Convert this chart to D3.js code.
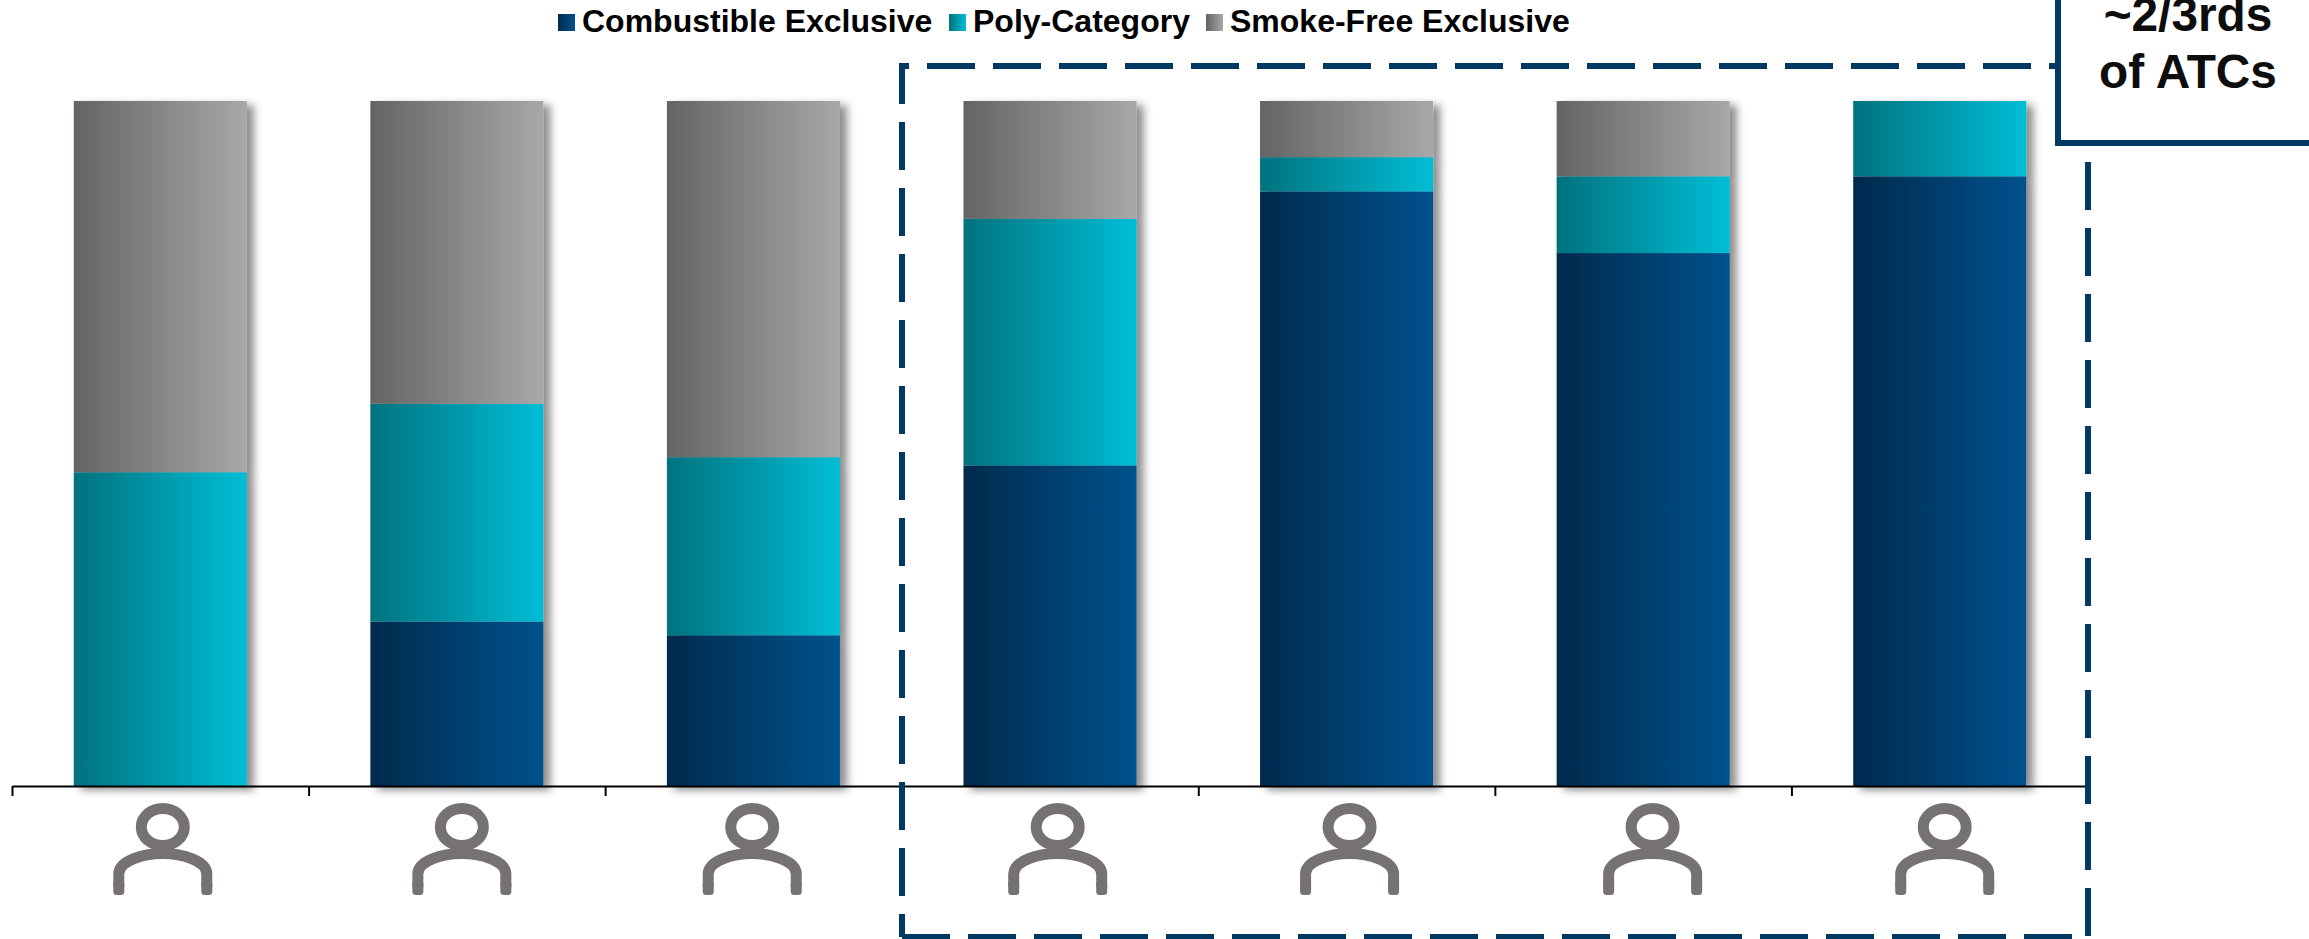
<!DOCTYPE html>
<html><head><meta charset="utf-8">
<script src="https://cdn.jsdelivr.net/npm/d3@7"></script>
<style>html,body{margin:0;padding:0;background:#fff;overflow:hidden}svg{display:block}text{font-family:"Liberation Sans",Arial,sans-serif;font-weight:700}</style>
</head><body><svg id="c" width="2309" height="939"></svg>
<script>
const categories = ["A","B","C","D","E","F","G"];
const seriesNames = ["Combustible Exclusive","Poly-Category","Smoke-Free Exclusive"];
const combustible = [0,24,22,46.8,86.8,77.8,89];
const polyCategory = [45.8,31.8,26,36,5,11.2,11];
const smokeFree = [54.2,44.2,52,17.2,8.2,11,0];
const calloutLines = ["~2/3rds","of ATCs"];
const iconNudge = [2.5,5,-1.2,7.7,3,9.5,5];

const W=2309,H=939,base=786,top0=101,axL=12,axR=2088;
const svg=d3.select("#c");
const defs=svg.append("defs");
const grads=[["#012a4d","#00528c"],["#00727e","#00bed6"],["#646464","#a8a8a8"]];
grads.forEach((g,i)=>{
  const lg=defs.append("linearGradient").attr("id","g"+i);
  lg.append("stop").attr("offset",0).attr("stop-color",g[0]);
  lg.append("stop").attr("offset",1).attr("stop-color",g[1]);
});
const f=defs.append("filter").attr("id","sh").attr("x","-10%").attr("y","-5%").attr("width","125%").attr("height","110%");
f.append("feDropShadow").attr("dx",7).attr("dy",4).attr("stdDeviation",4).attr("flood-color","#000").attr("flood-opacity",.45);

const step=(axR-axL)/categories.length, pad=1-173/step;
const x=d3.scaleBand().domain(categories).range([axL,axR]).paddingInner(pad).paddingOuter(pad/2);
const y=d3.scaleLinear().domain([0,100]).range([base,top0]);
const table=categories.map((c,i)=>({c,[seriesNames[0]]:combustible[i],[seriesNames[1]]:polyCategory[i],[seriesNames[2]]:smokeFree[i]}));
const stack=d3.stack().keys(seriesNames)(table);

// bars
const barG=svg.append("g").selectAll("g").data(categories).join("g").attr("filter","url(#sh)");
barG.each(function(c,ci){
  d3.select(this).selectAll("rect").data(stack.map((s,si)=>({d:s[ci],si}))).join("rect")
    .attr("x",x(c)).attr("width",x.bandwidth())
    .attr("y",d=>y(d.d[1])).attr("height",d=>y(d.d[0])-y(d.d[1]))
    .attr("fill",d=>`url(#g${d.si})`);
});

// axis
const xAxis=d3.scaleLinear().domain([0,categories.length]).range([axL,axR]);
const ax=svg.append("g").attr("transform",`translate(0,${base})`)
  .call(d3.axisBottom(xAxis).tickValues(d3.range(0,categories.length+1)).tickSize(10).tickSizeOuter(0).tickFormat(""));
ax.selectAll("path,line").attr("stroke","#000").attr("stroke-width",2);
ax.selectAll("text").remove();

// person icons
const icon=svg.append("g").selectAll("g").data(categories).join("g")
  .attr("transform",(c,i)=>`translate(${x(c)+x.bandwidth()/2+iconNudge[i]},827)`)
  .attr("fill","none").attr("stroke","#767271");
icon.append("ellipse").attr("rx",21.5).attr("ry",18.5).attr("stroke-width",11);
icon.append("path").attr("stroke-width",11)
  .attr("d","M-44 60V47C-44 34 -20 26.500 0 26.500C20 26.500 44 34 44 47V60");
[-49.5,38.5].forEach(fx=>icon.append("rect").attr("x",fx).attr("y",54).attr("width",11).attr("height",14).attr("rx",3.5).attr("fill","#767271").attr("stroke","none"));

// dashed highlight
const dash=svg.append("g").attr("stroke","#003a63").attr("stroke-width",6).attr("stroke-dasharray","48 18");
[[899,66,2091,66,38],[902,66,902,937,10],[902,937,2088,937,0],[2088,66,2088,937,36]].forEach(s=>{
  dash.append("line").attr("x1",s[0]).attr("y1",s[1]).attr("x2",s[2]).attr("y2",s[3]).attr("stroke-dashoffset",s[4]);
});

// callout
svg.append("rect").attr("x",2058).attr("y",-10).attr("width",300).attr("height",153)
  .attr("fill","#fff").attr("stroke","#003a63").attr("stroke-width",6);
svg.append("g").selectAll("text").data(calloutLines).join("text")
  .attr("x",2188).attr("y",(d,i)=>31+i*57).attr("text-anchor","middle")
  .attr("font-size",47.8).attr("fill","#0d0d0d").text(d=>d);

// legend
const legendX=[558,949,1206];
const leg=svg.append("g").selectAll("g").data(seriesNames).join("g").attr("transform",(d,i)=>`translate(${legendX[i]},0)`);
leg.append("rect").attr("y",14).attr("width",17).attr("height",17).attr("fill",(d,i)=>`url(#g${i})`);
leg.append("text").attr("x",24).attr("y",32).attr("font-size",32).attr("fill","#000").text(d=>d);
</script></body></html>
